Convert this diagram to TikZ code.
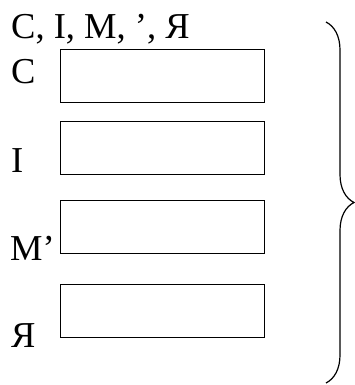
\documentclass[tikz,border=0pt]{standalone}
\usepackage{fontspec}
\setmainfont{Liberation Serif}
\usetikzlibrary{positioning, decorations.pathreplacing}
\tikzset{
    %Define style for boxes
    cellbox/.style={
           rectangle,
           draw=black, line width=1.3pt,
           minimum width=204pt,
           minimum height=53pt,
           inner sep=0pt},
 %
    letter/.style={
           anchor=base west,
           inner sep=0pt,
           font=\fontsize{36.5}{40}\selectfont},
 %
    % Define brace style
    bigbrace/.style={
           decorate,
           decoration={brace, amplitude=28pt},
           line width=1.2pt}
}
\begin{document}
\begin{tikzpicture}[x=1pt, y=-1pt]
  \useasboundingbox (0,0) rectangle (355,385);

  \node[letter] (title) at (11,39) {С, І, М, ’, Я};

  \node[cellbox, anchor=north west] (boxc) at (60,49) {};
  \node[cellbox, anchor=north west] (boxi) at (60,121) {};
  \node[cellbox, anchor=north west] (boxm) at (60,200) {};
  \node[cellbox, anchor=north west] (boxja) at (60,284) {};

  \node[letter] (lc) at (11,84) {С};
  \node[letter] (li) at (11,172) {І};
  \node[letter] (lm) at (10,260) {М’};
  \node[letter] (lja) at (11,347) {Я};

  \coordinate (bracetop) at (326,22);
  \coordinate (bracebot) at (326,383);
  \draw[bigbrace] (bracetop) -- (bracebot);
\end{tikzpicture}
\end{document}
